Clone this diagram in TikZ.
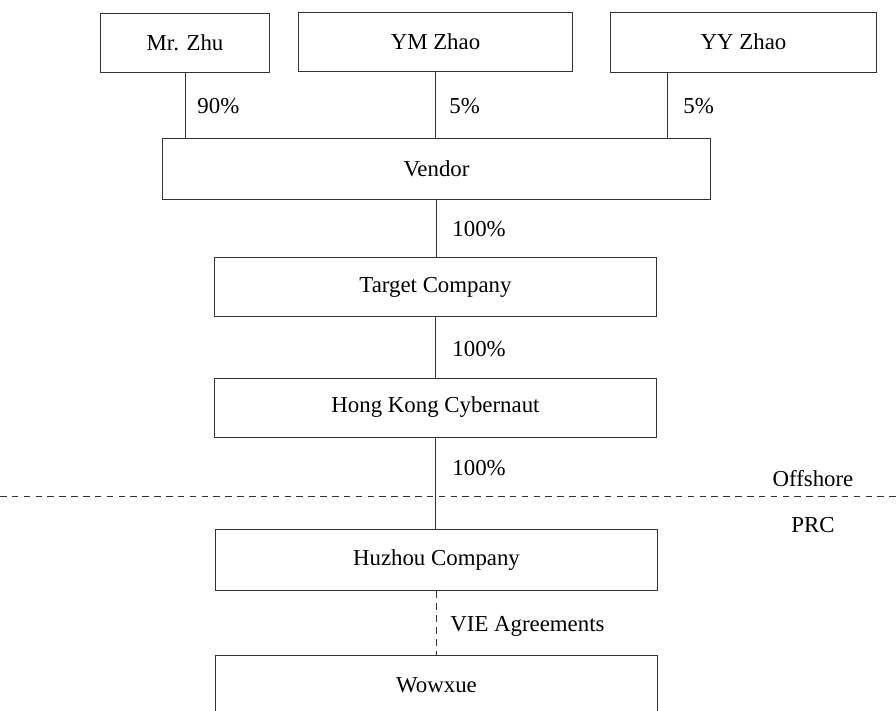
\documentclass[tikz,border=0pt]{standalone}
\usepackage{fontspec}
\setmainfont{Liberation Serif}
\usetikzlibrary{positioning,calc}

\tikzset{
    entity/.style={draw=black!80, line width=0.45pt, fill=white, inner sep=0pt},
    link/.style={draw=black!80, line width=0.45pt},
    share/.style={anchor=west, inner sep=0pt}
}

\begin{document}
\begin{tikzpicture}[x=0.016cm, y=-0.016cm, font=\fontsize{10.4}{12}\selectfont]
    \clip (0,0) rectangle (896,710);

    % Shareholders
    \node[entity, minimum width=2.69cm, minimum height=0.944cm] (zhu) at (185,42.5) {Mr. Zhu};
    \node[entity, minimum width=4.37cm, minimum height=0.944cm] (ymzhao) at (435.5,42) {YM Zhao};
    \node[entity, minimum width=4.27cm, minimum height=0.96cm] (yyzhao) at (743.5,42) {YY Zhao};

    % Offshore holding chain
    \node[entity, minimum width=8.78cm, minimum height=0.976cm] (vendor) at (436.5,168.5) {Vendor};
    \node[entity, minimum width=7.06cm, minimum height=0.93cm] (target) at (435.5,287) {Target Company};
    \node[entity, minimum width=7.06cm, minimum height=0.944cm] (hkcyber) at (435.5,407.5) {Hong Kong Cybernaut};

    % PRC side
    \node[entity, minimum width=7.09cm, minimum height=0.99cm] (huzhou) at (436.5,560) {Huzhou Company};
    \node[entity, minimum width=7.09cm, minimum height=1.28cm] (wowxue) at (436.5,695) {};
    \node at (436.5,685) {Wowxue};

    % Shareholding lines
    \coordinate (yyfoot) at (667,138);
    \draw[link] (zhu.south) -- (zhu.south |- vendor.north);
    \draw[link] (ymzhao.south) -- (ymzhao.south |- vendor.north);
    \draw[link] (yyzhao.south -| yyfoot) -- (yyfoot);
    \node[share] (p90) at (197,106) {90\%};
    \node[share] (p5a) at (449,106) {5\%};
    \node[share] (p5b) at (683,106) {5\%};

    \draw[link] (vendor.south) -- (vendor.south |- target.north);
    \node[share] (p100a) at (452,229) {100\%};
    \draw[link] (target.south) -- (target.south |- hkcyber.north);
    \node[share] (p100b) at (452,349) {100\%};
    \draw[link] (hkcyber.south) -- (hkcyber.south |- huzhou.north);
    \node[share] (p100c) at (452,468) {100\%};

    % Offshore / PRC boundary
    \draw[link, dash pattern=on 3pt off 2.4pt] (0,496) -- (896,496);
    \node (offshore) at (813,479) {Offshore};
    \node (prc) at (813,525) {PRC};

    % Contractual control
    \draw[link, dash pattern=on 3.2pt off 2.2pt] (huzhou.south) -- (huzhou.south |- wowxue.north);
    \node[share] (vie) at (450,626) {VIE Agreements};
\end{tikzpicture}
\end{document}
